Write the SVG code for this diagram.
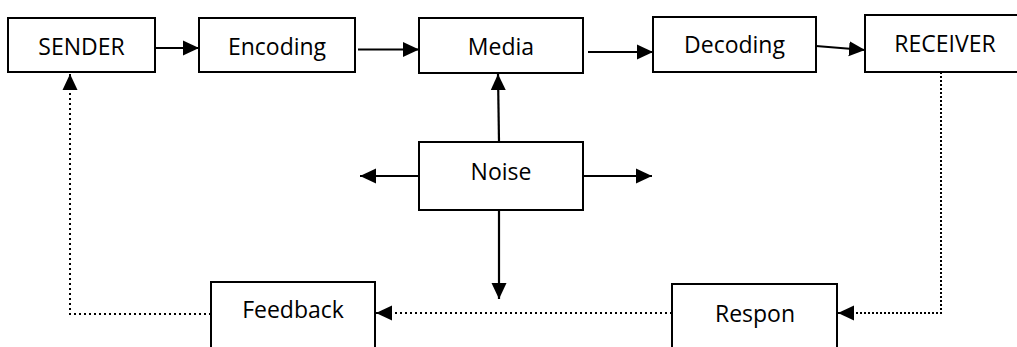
<svg xmlns="http://www.w3.org/2000/svg" width="1017" height="347" viewBox="0 0 1017 347">
<style>
.box{fill:#fff;stroke:#000;stroke-width:2}
.lbl{font-family:"Open Sans","Noto Sans",sans-serif;font-size:23px;fill:#000;text-anchor:middle}
.solid{fill:none;stroke:#000;stroke-width:2.2;marker-end:url(#ah)}
.dot{fill:none;stroke:#000;stroke-width:2;stroke-dasharray:2 3}
.dotthin{fill:none;stroke:#000;stroke-width:2;stroke-dasharray:2 2}
.head{stroke:#000;stroke-width:2;marker-end:url(#ah)}
</style>
<defs>
<marker id="ah" markerUnits="userSpaceOnUse" markerWidth="17" markerHeight="16" refX="16" refY="8" orient="auto">
<path d="M0,0.5 L16,8 L0,15.5 z" fill="#000"/>
</marker>
</defs>
<rect width="1017" height="347" fill="#fff"/>
<g id="connectors">
<line class="solid" x1="155" y1="48" x2="199" y2="48"/>
<line class="solid" x1="358" y1="49.5" x2="419" y2="49.5"/>
<line class="solid" x1="588" y1="52" x2="653" y2="52"/>
<line class="solid" x1="816" y1="46" x2="865" y2="50"/>
<line class="solid" x1="499" y1="142" x2="498" y2="74"/>
<line class="solid" x1="419" y1="176" x2="360" y2="176"/>
<line class="solid" x1="583" y1="176" x2="652" y2="176"/>
<line class="solid" x1="499" y1="210" x2="499" y2="299"/>
<polyline class="dotthin" points="941,72 941,313 852,313"/>
<line class="head" x1="852" y1="313" x2="838" y2="313"/>
<line class="dot" x1="672" y1="313" x2="390" y2="313"/>
<line class="head" x1="390" y1="313" x2="376" y2="313"/>
<polyline class="dot" points="211,314 70,314 70,90"/>
<line class="head" x1="70" y1="90" x2="70" y2="74"/>
</g>
<g id="sender"><rect class="box" x="8" y="18" width="147" height="54"/><text class="lbl" x="81.5" y="55">SENDER</text></g>
<g id="encoding"><rect class="box" x="199" y="18" width="156" height="54"/><text class="lbl" x="277" y="55">Encoding</text></g>
<g id="media"><rect class="box" x="419" y="18" width="164" height="55"/><text class="lbl" x="501" y="55">Media</text></g>
<g id="decoding"><rect class="box" x="653" y="17" width="163" height="55"/><text class="lbl" x="734.5" y="53">Decoding</text></g>
<g id="receiver"><rect class="box" x="865" y="15" width="160" height="57"/><text class="lbl" x="945" y="52">RECEIVER</text></g>
<g id="noise"><rect class="box" x="419" y="142" width="164" height="68"/><text class="lbl" x="501" y="180">Noise</text></g>
<g id="feedback"><rect class="box" x="211" y="282" width="164" height="80"/><text class="lbl" x="293" y="318">Feedback</text></g>
<g id="respon"><rect class="box" x="672" y="284" width="165" height="80"/><text class="lbl" x="755" y="322">Respon</text></g>
</svg>
